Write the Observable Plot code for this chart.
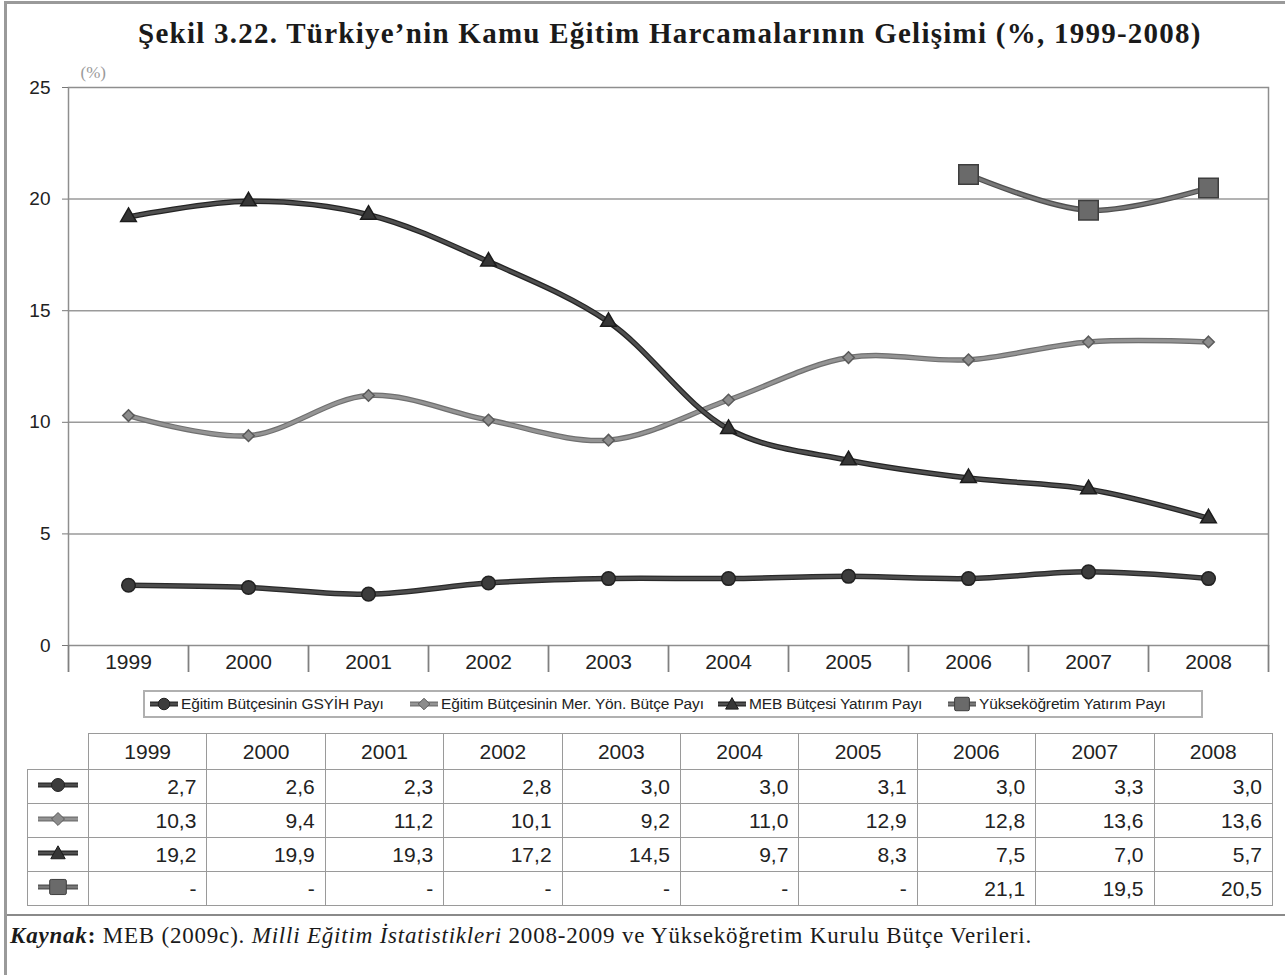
<!DOCTYPE html>
<html><head><meta charset="utf-8">
<script src="https://cdn.jsdelivr.net/npm/d3@7"></script>
<script src="https://cdn.jsdelivr.net/npm/@observablehq/plot@0.6"></script>
<style>
body{margin:0;background:#fff;}
#page{position:relative;width:1285px;height:975px;overflow:hidden;background:#fff;font-family:"Liberation Sans",Arial,sans-serif;}
#outer{position:absolute;left:4px;top:1px;width:1300px;height:1000px;border:3px solid #9a9a9a;box-sizing:border-box;}
#title{position:absolute;left:138px;top:17px;white-space:nowrap;font-family:"Liberation Serif","Times New Roman",serif;font-weight:bold;font-size:29px;letter-spacing:1.25px;color:#1a1a1a;}
#chart{position:absolute;left:0;top:60px;}
#legend{position:absolute;left:143px;top:690px;width:1060px;height:28px;border:2px solid #b0b0b0;box-sizing:border-box;}
.li{position:absolute;top:3px;display:flex;align-items:center;font-size:15.5px;letter-spacing:-0.15px;color:#222;white-space:nowrap;}
.li svg{margin-right:2px;}
#tbl{position:absolute;left:27px;top:733px;border-collapse:collapse;table-layout:fixed;width:1245px;}
#tbl td,#tbl th{border:1.5px solid #9a9a9a;font-size:21px;font-weight:normal;color:#222;padding:0;}
#tbl th{height:35px;text-align:center;}
#tbl td{height:33px;text-align:right;padding-right:10px;}
#tbl td.m{text-align:center;padding:0;}
#tbl th.blank{border-top:none;border-left:none;}
#sep{position:absolute;left:7px;top:914px;width:1290px;border-top:2.5px solid #8a8a8a;}
#caption{position:absolute;left:10px;top:923px;font-family:"Liberation Serif","Times New Roman",serif;font-size:23px;letter-spacing:0.8px;color:#1a1a1a;white-space:nowrap;}
</style></head>
<body>
<div id="page">
  <div id="outer"></div>
  <div id="title">Şekil 3.22. Türkiye’nin Kamu Eğitim Harcamalarının Gelişimi (%, 1999-2008)</div>
  <div id="chart"></div>
  <div id="legend"></div>
  <table id="tbl"></table>
  <div id="sep"></div>
  <div id="caption"><b><i>Kaynak</i>:</b> MEB (2009c). <i>Milli Eğitim İstatistikleri</i> 2008-2009 ve Yükseköğretim Kurulu Bütçe Verileri.</div>
</div>
<script>
// ---- data ----
const years = [1999, 2000, 2001, 2002, 2003, 2004, 2005, 2006, 2007, 2008];
const seriesNames = [
  "Eğitim Bütçesinin GSYİH Payı",
  "Eğitim Bütçesinin Mer. Yön. Bütçe Payı",
  "MEB Bütçesi Yatırım Payı",
  "Yükseköğretim Yatırım Payı"
];
const gsyihPayi = [2.7, 2.6, 2.3, 2.8, 3.0, 3.0, 3.1, 3.0, 3.3, 3.0];
const merYonPayi = [10.3, 9.4, 11.2, 10.1, 9.2, 11.0, 12.9, 12.8, 13.6, 13.6];
const mebYatirimPayi = [19.2, 19.9, 19.3, 17.2, 14.5, 9.7, 8.3, 7.5, 7.0, 5.7];
const yokYatirimPayi = [null, null, null, null, null, null, null, 21.1, 19.5, 20.5];
const yTicks = [0, 5, 10, 15, 20, 25];
const yLabel = "(%)";

const seriesValues = [gsyihPayi, merYonPayi, mebYatirimPayi, yokYatirimPayi];
const styles = [
  {symbol: "circle",   r: 6.8, fill: "#3c3c3c", stroke: "#222", inner: "#4d4d4d", outer: "#2a2a2a"},
  {symbol: "diamond2", r: 5.2, fill: "#8c8c8c", stroke: "#5a5a5a", inner: "#949494", outer: "#707070"},
  {symbol: "triangle", r: 5.8, fill: "#363636", stroke: "#1c1c1c", inner: "#505050", outer: "#242424"},
  {symbol: "square",   r: 11,  fill: "#6a6a6a", stroke: "#3e3e3e", inner: "#787878", outer: "#505050"}
];

const rows = [];
seriesValues.forEach((vals, i) => vals.forEach((v, j) => rows.push({series: seriesNames[i], idx: i, year: years[j], value: v})));
const boundaries = years.map(y => y - 0.5).concat([years[years.length - 1] + 0.5]);

const lineMarks = [];
const dotMarks = [];
seriesNames.forEach((name, i) => {
  const s = styles[i];
  const d = rows.filter(r => r.idx === i);
  lineMarks.push(Plot.line(d, {x: "year", y: "value", stroke: s.outer, strokeWidth: 5.5, curve: "catmull-rom"}));
  lineMarks.push(Plot.line(d, {x: "year", y: "value", stroke: s.inner, strokeWidth: 3, curve: "catmull-rom"}));
  dotMarks.push(Plot.dot(d.filter(r => r.value != null), {x: "year", y: "value", symbol: s.symbol, r: s.r, fill: s.fill, stroke: s.stroke, strokeWidth: 1.5}));
});

const chart = Plot.plot({
  width: 1285, height: 625,
  marginLeft: 68, marginRight: 17, marginTop: 27, marginBottom: 40,
  x: {type: "linear", domain: [boundaries[0], boundaries[boundaries.length - 1]]},
  y: {domain: [yTicks[0], yTicks[yTicks.length - 1]]},
  style: {fontFamily: "'Liberation Sans', Arial, sans-serif", color: "#222", background: "transparent", overflow: "visible"},
  marks: [
    Plot.gridY(yTicks.slice(1, -1), {stroke: "#9a9a9a", strokeOpacity: 1, strokeWidth: 1.5}),
    Plot.frame({stroke: "#8e8e8e", strokeWidth: 1.5}),
    Plot.axisY(yTicks, {tickSize: 6, tickPadding: 12, fontSize: 19, stroke: "#777", label: null}),
    Plot.axisX(boundaries, {tickSize: 27, tickFormat: () => "", stroke: "#808080", strokeWidth: 1.8, label: null}),
    Plot.axisX(years, {tickSize: 0, tickPadding: 9, fontSize: 21, tickFormat: d => String(d), label: null}),
    ...lineMarks,
    ...dotMarks,
    Plot.text([yLabel], {frameAnchor: "top-left", dx: 12, dy: -22, text: d => d, fill: "#9a9a9a", fontSize: 17, fontFamily: "'Liberation Serif', serif"})
  ]
});
document.getElementById("chart").appendChild(chart);

// ---- legend / table swatches ----
function swatch(i, w, h) {
  const s = styles[i];
  const cy = h / 2, cx = w / 2;
  let m = "";
  if (s.symbol === "circle") m = `<circle cx="${cx}" cy="${cy}" r="${h*0.36}" fill="${s.fill}" stroke="${s.stroke}"/>`;
  else if (s.symbol === "diamond2") { const a = h*0.36; m = `<path d="M${cx},${cy-a}L${cx+a},${cy}L${cx},${cy+a}L${cx-a},${cy}Z" fill="${s.fill}" stroke="${s.stroke}"/>`; }
  else if (s.symbol === "triangle") { const a = h*0.4; m = `<path d="M${cx},${cy-a}L${cx+a},${cy+a*0.8}L${cx-a},${cy+a*0.8}Z" fill="${s.fill}" stroke="${s.stroke}"/>`; }
  else { const a = h*0.42; m = `<rect x="${cx-a*1.1}" y="${cy-a}" width="${a*2.2}" height="${a*2}" rx="1.5" fill="${s.fill}" stroke="${s.stroke}"/>`; }
  return `<svg width="${w}" height="${h}"><line x1="1" x2="${w-1}" y1="${cy}" y2="${cy}" stroke="${s.outer}" stroke-width="5"/><line x1="1" x2="${w-1}" y1="${cy}" y2="${cy}" stroke="${s.inner}" stroke-width="2.5"/>${m}</svg>`;
}
const legendX = [4, 264, 572, 802];
const legend = document.getElementById("legend");
seriesNames.forEach((name, i) => {
  const el = document.createElement("div");
  el.className = "li";
  el.style.left = legendX[i] + "px";
  el.innerHTML = swatch(i, 30, 16) + `<span>${name}</span>`;
  legend.appendChild(el);
});

const fmt = v => v == null ? "-" : v.toFixed(1).replace(".", ",");
const tbl = document.getElementById("tbl");
let html = `<colgroup><col style="width:61px">${years.map(() => `<col style="width:118.4px">`).join("")}</colgroup>`;
html += `<tr><th class="blank"></th>${years.map(y => `<th>${y}</th>`).join("")}</tr>`;
seriesValues.forEach((vals, i) => {
  html += `<tr><td class="m">${swatch(i, 42, 18)}</td>${vals.map(v => `<td>${fmt(v)}</td>`).join("")}</tr>`;
});
tbl.innerHTML = html;
</script>
</body></html>
